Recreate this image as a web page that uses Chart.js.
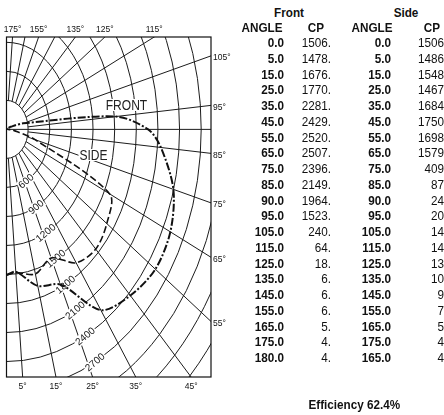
<!DOCTYPE html>
<html>
<head>
<meta charset="utf-8">
<script src="https://cdn.jsdelivr.net/npm/chart.js@4.4.1/dist/chart.umd.min.js"></script>
<style>
html, body { margin: 0; padding: 0; background: #fff; overflow: hidden; }
#wrap { position: relative; width: 444px; height: 415px; }
#polar { position: absolute; left: 0; top: 0; }
.cell {
  position: absolute; width: 90px; height: 16px; line-height: 16px;
  font-family: "Liberation Sans", Arial, sans-serif; font-size: 13px;
  color: #111; white-space: nowrap; transform: scaleX(0.9);
}
.b { font-weight: bold; }
</style>
</head>
<body>
<div id="wrap">
  <canvas id="polar" width="232" height="415"></canvas>
  <div id="table"></div>
</div>
<script>
// candlepower readings
const frontAngles = [0, 5, 15, 25, 35, 45, 55, 65, 75, 85, 90, 95, 105, 115, 125, 135, 145, 155, 165, 175, 180];
const frontCP = [1506, 1478, 1676, 1770, 2281, 2429, 2520, 2507, 2396, 2149, 1964, 1523, 240, 64, 18, 6, 6, 6, 5, 4, 4];
const sideAngles = [0, 5, 15, 25, 35, 45, 55, 65, 75, 85, 90, 95, 105, 115, 125, 135, 145, 155, 165, 175, 165];
const sideCP = [1506, 1486, 1548, 1467, 1684, 1750, 1698, 1579, 409, 87, 24, 20, 14, 14, 13, 10, 9, 7, 5, 4, 4];
const efficiency = "Efficiency 62.4%";

// grid
const ringValues = [300, 600, 900, 1200, 1500, 1800, 2100, 2400, 2700, 3000, 3300, 3600, 3900];
const ringLabels = [600, 900, 1200, 1500, 1800, 2100, 2400, 2700];
const radialAngles = [5, 15, 25, 35, 45, 55, 65, 75, 85, 90, 95, 105, 115, 125, 135, 145, 155, 165, 175];
const angleLabels = [5, 15, 25, 35, 45, 55, 65, 75, 85, 95, 105, 115, 125, 135, 155, 175];

// axis limits in cd (x to the right, y up = 180 deg)
const xMax = 2836;
const yMax = 955;
const yMin = -2560;

const rad = d => d * Math.PI / 180;
const toXY = (deg, cp) => ({ x: cp * Math.sin(rad(deg)), y: -cp * Math.cos(rad(deg)) });

const polarGrid = {
  id: 'polarGrid',
  beforeDatasetsDraw(chart) {
    const { ctx, chartArea: a, scales: { x, y } } = chart;
    const ox = x.getPixelForValue(0), oy = y.getPixelForValue(0);
    const px = (r, d) => x.getPixelForValue(r * Math.sin(rad(d)));
    const py = (r, d) => y.getPixelForValue(-r * Math.cos(rad(d)));

    ctx.save();
    ctx.beginPath();
    ctx.rect(a.left, a.top, a.right - a.left, a.bottom - a.top);
    ctx.clip();
    ctx.strokeStyle = '#1c1c1c';
    ctx.lineWidth = 1;
    ringValues.forEach(r => {
      const rx = x.getPixelForValue(r) - ox;
      const ry = y.getPixelForValue(-r) - oy;
      ctx.beginPath();
      ctx.ellipse(ox, oy, rx, ry, 0, -Math.PI / 2, Math.PI / 2);
      ctx.stroke();
    });
    radialAngles.forEach(d => {
      const r0 = d === 90 ? 0 : ringValues[0];
      ctx.beginPath();
      ctx.moveTo(px(r0, d), py(r0, d));
      ctx.lineTo(px(8000, d), py(8000, d));
      ctx.stroke();
    });

    // ring values along the 27 deg ray
    ctx.font = '10px "Liberation Sans", Arial, sans-serif';
    ctx.textAlign = 'center';
    ctx.textBaseline = 'middle';
    ringLabels.forEach(r => {
      const w = ctx.measureText(String(r)).width;
      ctx.save();
      ctx.translate(px(r, 27), py(r, 27));
      ctx.rotate(rad(-40));
      ctx.fillStyle = '#fff';
      ctx.fillRect(-w / 2 - 1, -5, w + 2, 10);
      ctx.fillStyle = '#111';
      ctx.fillText(String(r), 0, 0.5);
      ctx.restore();
    });

    // curve names
    ctx.font = '14px "Liberation Sans", Arial, sans-serif';
    [['FRONT', 1664, 252], ['SIDE', 1207, -265]].forEach(([t, vx, vy]) => {
      const w = ctx.measureText(t).width * 0.86;
      ctx.save();
      ctx.translate(x.getPixelForValue(vx), y.getPixelForValue(vy));
      ctx.fillStyle = '#fff';
      ctx.fillRect(-w / 2 - 1, -6, w + 2, 12);
      ctx.scale(0.86, 1);
      ctx.fillStyle = '#222';
      ctx.fillText(t, 0, 1);
      ctx.restore();
    });
    ctx.restore();

    // frame
    ctx.save();
    ctx.strokeStyle = '#111';
    ctx.lineWidth = 1.2;
    ctx.strokeRect(a.left, a.top, a.right - a.left, a.bottom - a.top);

    // angle labels where each ray leaves the frame
    ctx.fillStyle = '#111';
    ctx.font = '8.5px "Liberation Sans", Arial, sans-serif';
    angleLabels.forEach(d => {
      const dx = px(1, d) - ox, dy = py(1, d) - oy;
      let t = Infinity, side = '';
      if (dx > 0 && (a.right - ox) / dx < t) { t = (a.right - ox) / dx; side = 'r'; }
      if (dy > 0 && (a.bottom - oy) / dy < t) { t = (a.bottom - oy) / dy; side = 'b'; }
      if (dy < 0 && (a.top - oy) / dy < t) { t = (a.top - oy) / dy; side = 't'; }
      const hx = ox + dx * t, hy = oy + dy * t;
      const label = d + '°';
      if (side === 'r') {
        ctx.textAlign = 'left'; ctx.textBaseline = 'middle';
        ctx.fillText(label, a.right + 2, hy + 2);
      } else if (side === 'b') {
        ctx.textAlign = 'center'; ctx.textBaseline = 'top';
        ctx.fillText(label, hx, a.bottom + 5);
      } else {
        ctx.textAlign = 'center'; ctx.textBaseline = 'bottom';
        ctx.fillText(label, hx, a.top - 3);
      }
    });
    ctx.restore();
  }
};

new Chart(document.getElementById('polar'), {
  type: 'scatter',
  data: {
    datasets: [
      {
        label: 'Front',
        data: frontAngles.map((d, i) => toXY(d, frontCP[i])),
        showLine: true,
        borderColor: '#111',
        borderWidth: 2,
        borderDash: [8, 2, 2, 2],
        tension: 0.3,
        pointRadius: 0
      },
      {
        label: 'Side',
        data: sideAngles.map((d, i) => toXY(d, sideCP[i])),
        showLine: true,
        borderColor: '#111',
        borderWidth: 1.6,
        borderDash: [7, 3],
        tension: 0.3,
        pointRadius: 0
      }
    ]
  },
  options: {
    responsive: false,
    animation: false,
    devicePixelRatio: 1,
    layout: { padding: { left: 6.5, right: 21, top: 37, bottom: 38 } },
    plugins: { legend: { display: false }, tooltip: { enabled: false } },
    scales: {
      x: { type: 'linear', min: 0, max: xMax, display: false },
      y: { type: 'linear', min: yMin, max: yMax, display: false }
    }
  },
  plugins: [polarGrid]
});

// table on the right
const table = document.getElementById('table');
function cell(text, x, y, align, bold) {
  const el = document.createElement('div');
  el.className = 'cell' + (bold ? ' b' : '');
  el.textContent = text;
  el.style.left = (align === 'right' ? x - 90 : x - 45) + 'px';
  el.style.top = (y - 8) + 'px';
  el.style.textAlign = align;
  el.style.transformOrigin = align === 'right' ? 'right center' : 'center center';
  table.appendChild(el);
}

const rowTop = 43, rowStep = 15.75;
cell('Front', 289, 13, 'center', true);
cell('Side', 406, 13, 'center', true);
cell('ANGLE', 262, 28, 'center', true);
cell('CP', 316, 28, 'center', true);
cell('ANGLE', 372, 28, 'center', true);
cell('CP', 432, 28, 'center', true);
frontAngles.forEach((d, i) => {
  const y = rowTop + i * rowStep;
  cell(d.toFixed(1), 284, y, 'right', true);
  cell(frontCP[i] + '.', 331, y, 'right', false);
  cell(sideAngles[i].toFixed(1), 391, y, 'right', true);
  cell(String(sideCP[i]), 444, y, 'right', false);
});
cell(efficiency, 349, 405, 'center', true);
</script>
</body>
</html>
